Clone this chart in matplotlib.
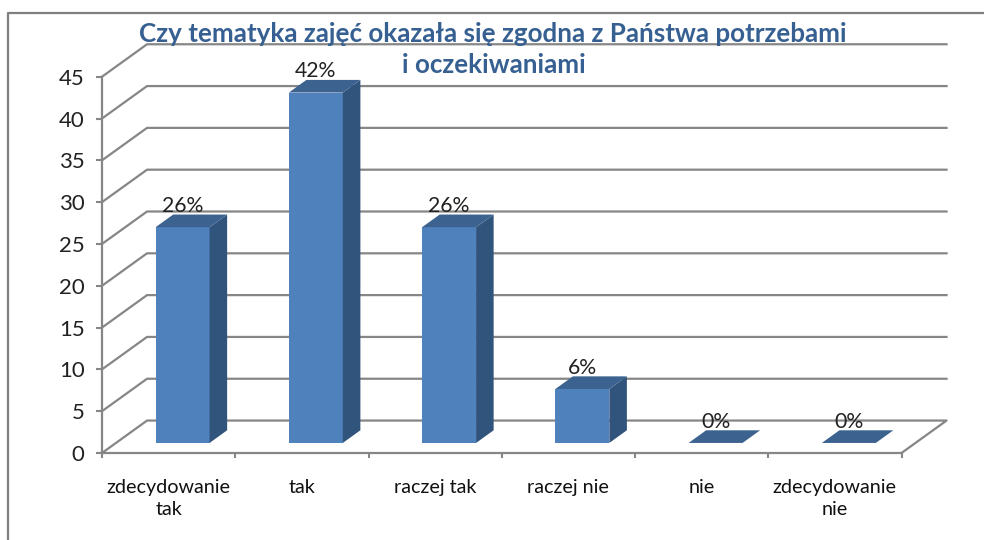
import matplotlib
matplotlib.use('Agg')
import matplotlib.pyplot as plt

# answers (8/31, 13/31 ...)
categories = ['zdecydowanie\ntak', 'tak', 'raczej tak', 'raczej nie', 'nie', 'zdecydowanie\nnie']
values = [25.8, 41.9, 25.8, 6.45, 0, 0]
value_labels = ['26%', '42%', '26%', '6%', '0%', '0%']
y_ticks = [0, 5, 10, 15, 20, 25, 30, 35, 40, 45]
title_lines = ['Czy tematyka zajęć okazała się zgodna z Państwa potrzebami', 'i oczekiwaniami']

plt.rcParams['font.family'] = ['Lato', 'DejaVu Sans']

W, H = 984, 540
GRID = '#868686'
FRONT = '#4F81BD'
SIDE = '#31547C'
TOP = '#3C6290'

# oblique depth of the fake 3d box, in data units
DEPTH_X = 0.338
DEPTH_Y = 3.88
BAR_W = 0.405
D0, D1 = 0.31, 0.70


def proj(x, y, d=0.0):
    return x + d * DEPTH_X, y + d * DEPTH_Y


def poly(ax, pts, color, z):
    xs = [p[0] for p in pts]
    ys = [p[1] for p in pts]
    ax.fill(xs, ys, color=color, lw=0, zorder=z, clip_on=False)


fig = plt.figure(figsize=(W / 100, H / 100), dpi=100)
ax = fig.add_axes([102 / W, 1 - 453 / H, 799.5 / W, 376.3 / H])
ax.set_xlim(0, 6)
ax.set_ylim(0, 45)
ax.patch.set_visible(False)

# chart frame and walls
for sp in ['top', 'right']:
    ax.spines[sp].set_visible(False)
for sp in ['left', 'bottom']:
    ax.spines[sp].set_color(GRID)
    ax.spines[sp].set_linewidth(1.6)

for v in y_ticks:
    a = proj(0, v)
    b = proj(0, v, 1)
    c = proj(6, v, 1)
    pts = [a, b, c]
    if v == 0:
        pts.append(proj(6, 0))
    ax.plot([p[0] for p in pts], [p[1] for p in pts], color=GRID, lw=1.6, clip_on=False, zorder=1)

# bars
for i, v in enumerate(values):
    x0 = i + 0.5 - BAR_W / 2
    x1 = x0 + BAR_W
    if v > 0:
        poly(ax, [proj(x0, 0, D0), proj(x1, 0, D0), proj(x1, v, D0), proj(x0, v, D0)], FRONT, 3)
        poly(ax, [proj(x1, 0, D0), proj(x1, 0, D1), proj(x1, v, D1), proj(x1, v, D0)], SIDE, 3)
    poly(ax, [proj(x0, v, D0), proj(x1, v, D0), proj(x1, v, D1), proj(x0, v, D1)], TOP, 3)
    ax.annotate(value_labels[i], proj(i + 0.5, v, D0), xytext=(0, 15.2), textcoords='offset points',
                ha='center', va='center', fontsize=15.3, color='#222222', zorder=5)

ax.set_yticks(y_ticks)
ax.set_xticks(range(7))
ax.set_xticklabels([])
ax.set_xticks([i + 0.5 for i in range(6)], minor=True)
ax.set_xticklabels(categories, minor=True, fontsize=14.2, color='#111111', linespacing=1.38)
ax.tick_params(axis='x', which='major', length=3.6, width=1.5, color=GRID)
ax.tick_params(axis='x', which='minor', length=0, pad=18.5)
ax.tick_params(axis='y', length=4.5, width=1.5, color=GRID, labelsize=16, labelcolor='#222222', pad=8)

# title sits across the top grid lines
fig.text(493 / W, 1 - 33.5 / H, title_lines[0], ha='center', va='center', fontsize=18.75,
         fontweight='bold', color='#376092', zorder=6)
fig.text(494 / W, 1 - 65.5 / H, title_lines[1], ha='center', va='center', fontsize=18.75,
         fontweight='bold', color='#376092', zorder=6)

# outer frame, open on the right and bottom
fig.add_artist(plt.Line2D([8 / W, 8 / W, 1], [0, 1 - 13 / H, 1 - 13 / H], color='#7F7F7F', lw=1.6))

fig.savefig('out.png', dpi=100, facecolor='white')
